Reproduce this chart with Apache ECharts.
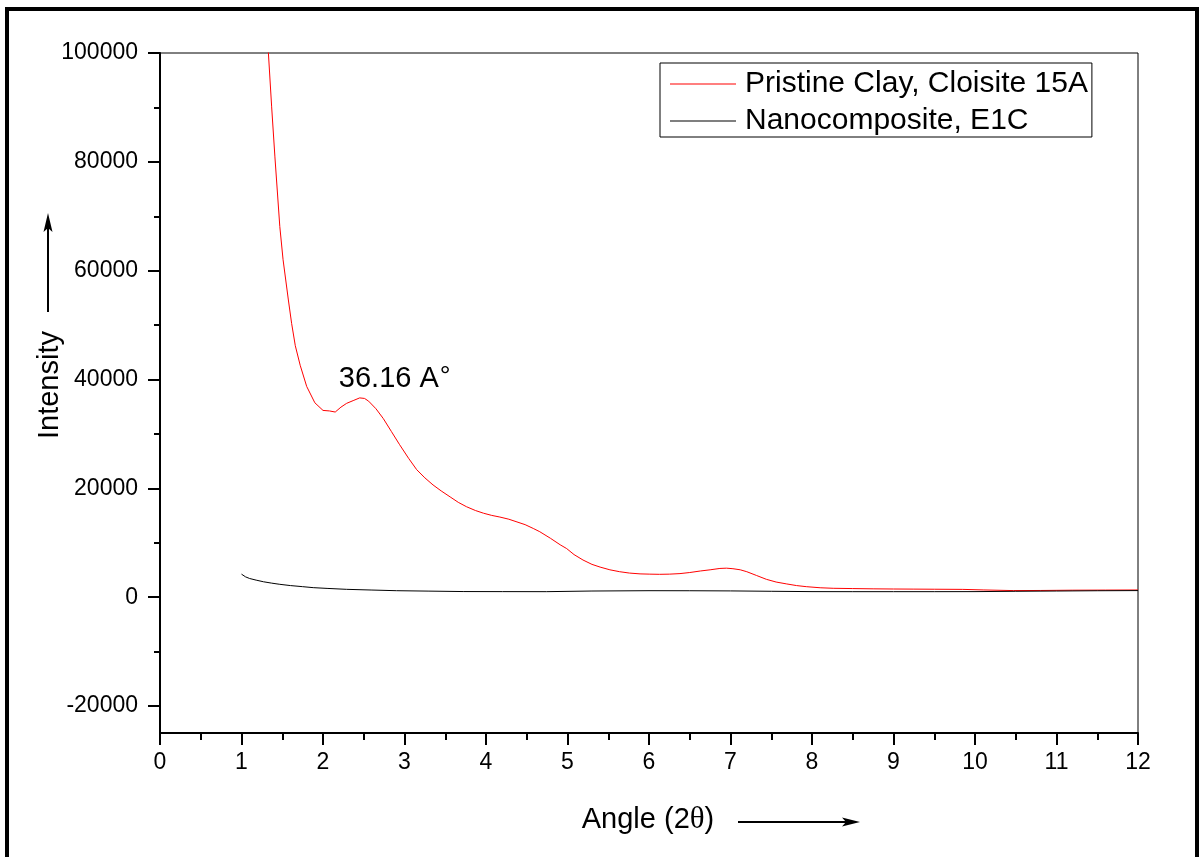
<!DOCTYPE html>
<html>
<head>
<meta charset="utf-8">
<script src="https://cdn.jsdelivr.net/npm/echarts@6/dist/echarts.min.js"></script>
<style>
html,body{margin:0;padding:0;background:#fff;}
#c{width:1204px;height:857px;}
</style>
</head>
<body>
<div id="c"></div>
<script>
// ---- data ----
const seriesNames = ['Pristine Clay, Cloisite 15A', 'Nanocomposite, E1C'];

const clayX = [1.25, 1.33, 1.37, 1.41, 1.47, 1.51, 1.575, 1.615, 1.66, 1.72, 1.80, 1.90, 2.00, 2.08, 2.15, 2.22, 2.29, 2.37, 2.45, 2.51, 2.56, 2.65, 2.74, 2.84, 2.94, 3.05, 3.15, 3.25, 3.35, 3.45, 3.56, 3.66, 3.76, 3.87, 3.97, 4.07, 4.17, 4.28, 4.38, 4.48, 4.58, 4.66, 4.79, 4.91, 4.99, 5.08, 5.19, 5.30, 5.40, 5.52, 5.64, 5.76, 5.89, 6.01, 6.13, 6.25, 6.38, 6.50, 6.63, 6.75, 6.87, 6.95, 7.03, 7.12, 7.20, 7.32, 7.44, 7.56, 7.69, 7.81, 7.93, 8.10, 8.26, 8.50, 8.75, 9.00, 9.25, 9.50, 9.85, 10.10, 10.47, 10.80, 11.20, 11.60, 12.00];
const clayY = [122000, 100000, 90100, 80900, 68100, 62000, 54600, 50300, 46200, 42600, 38700, 35700, 34300, 34200, 34000, 34900, 35600, 36100, 36600, 36500, 36000, 34600, 32800, 30400, 28000, 25500, 23400, 21900, 20600, 19500, 18400, 17400, 16600, 15900, 15400, 15000, 14700, 14300, 13800, 13300, 12600, 12000, 10800, 9600, 8900, 7800, 6800, 6000, 5500, 5000, 4650, 4400, 4250, 4200, 4170, 4200, 4300, 4500, 4780, 5000, 5250, 5300, 5200, 5000, 4650, 3950, 3250, 2750, 2400, 2100, 1900, 1700, 1600, 1550, 1500, 1470, 1450, 1430, 1400, 1300, 1180, 1200, 1250, 1270, 1290];

const nanoX = [1.00, 1.05, 1.10, 1.18, 1.27, 1.37, 1.47, 1.60, 1.75, 1.88, 2.05, 2.29, 2.60, 2.90, 3.30, 3.72, 4.20, 4.74, 5.30, 6.00, 6.50, 7.00, 7.50, 8.00, 8.50, 9.00, 9.50, 10.00, 10.50, 11.00, 11.50, 12.00];
const nanoY = [4200, 3700, 3400, 3100, 2800, 2550, 2330, 2100, 1900, 1720, 1580, 1410, 1280, 1160, 1080, 1000, 990, 980, 1100, 1160, 1150, 1120, 1050, 990, 980, 980, 980, 990, 1050, 1100, 1150, 1180];

const xTicks = {min: 0, max: 12, step: 1};
const yRange = {min: -25000, max: 100000};
const yTicks = {min: -20000, max: 100000, step: 20000};

const peakLabel = {x: 2.88, y: 40000, text: '36.16 A'};

// ---- build ----
const pairs = (xs, ys) => xs.map((x, i) => [x, ys[i]]);
const FONT = 'Liberation Sans, Arial, sans-serif';

const chart = echarts.init(document.getElementById('c'), null, {renderer: 'canvas'});

const option = {
  animation: false,
  backgroundColor: '#fff',
  grid: [
    {left: 160, top: 53, width: 978, height: 680, show: true, borderColor: '#000', borderWidth: 1, backgroundColor: 'transparent'},
    {left: 160, top: 53, width: 978, height: 653}
  ],
  xAxis: [
    {
      gridIndex: 0, type: 'value', min: xTicks.min, max: xTicks.max, interval: xTicks.step,
      axisLine: {show: true, onZero: false, lineStyle: {color: '#000', width: 2}},
      axisTick: {show: true, length: 12, lineStyle: {color: '#000', width: 2}},
      minorTick: {show: true, splitNumber: 2, length: 7, lineStyle: {color: '#000', width: 2}},
      splitLine: {show: false}, minorSplitLine: {show: false},
      axisLabel: {color: '#000', fontSize: 23, fontFamily: FONT, margin: 18, formatter: v => String(v)}
    },
    {gridIndex: 1, type: 'value', min: xTicks.min, max: xTicks.max, show: false}
  ],
  yAxis: [
    {
      gridIndex: 0, type: 'value', min: yRange.min, max: yRange.max,
      axisLine: {show: true, onZero: false, lineStyle: {color: '#000', width: 2}},
      axisTick: {show: false}, axisLabel: {show: false}, splitLine: {show: false}
    },
    {
      gridIndex: 1, type: 'value', min: yTicks.min, max: yTicks.max, interval: yTicks.step,
      axisLine: {show: false, onZero: false},
      axisTick: {show: true, length: 12, lineStyle: {color: '#000', width: 2}},
      minorTick: {show: true, splitNumber: 2, length: 6, lineStyle: {color: '#000', width: 2}},
      splitLine: {show: false}, minorSplitLine: {show: false},
      axisLabel: {color: '#000', fontSize: 23, fontFamily: FONT, margin: 22, formatter: v => String(v)}
    }
  ],
  legend: {
    orient: 'vertical', left: 660, top: 63,
    data: seriesNames,
    icon: 'rect', itemWidth: 66, itemHeight: 1.2, itemGap: 7,
    padding: [6, 4, 1, 10],
    borderColor: '#000', borderWidth: 1, backgroundColor: '#fff',
    textStyle: {color: '#000', fontSize: 30, fontFamily: FONT, padding: [0, 0, 0, 4]}
  },
  series: [
    {
      name: seriesNames[0], type: 'line', xAxisIndex: 0, yAxisIndex: 0,
      data: pairs(clayX, clayY), symbol: 'none', clip: true,
      lineStyle: {color: '#ff0000', width: 1}, itemStyle: {color: '#ff0000'},
      markPoint: {
        symbol: 'circle', symbolSize: 1, itemStyle: {color: 'rgba(0,0,0,0)'},
        label: {
          show: true, position: 'inside', color: '#000', fontSize: 29, fontFamily: FONT,
          formatter: peakLabel.text + '{d|°}',
          rich: {d: {fontSize: 27, fontFamily: FONT, color: '#000', verticalAlign: 'top', padding: [0, 0, 4, 1]}}
        },
        data: [{coord: [peakLabel.x, peakLabel.y]}]
      }
    },
    {
      name: seriesNames[1], type: 'line', xAxisIndex: 0, yAxisIndex: 0,
      data: pairs(nanoX, nanoY), symbol: 'none', clip: true,
      lineStyle: {color: '#000', width: 1}, itemStyle: {color: '#000'}
    }
  ],
  graphic: [
    {type: 'rect', z: 100, shape: {x: 7, y: 9, width: 1190, height: 900}, style: {fill: null, stroke: '#000', lineWidth: 4}},
    {type: 'text', x: 50, y: 385, rotation: Math.PI / 2,
      style: {text: 'Intensity', font: '29px Liberation Sans, Arial, sans-serif', fill: '#000', align: 'center', verticalAlign: 'middle'}},
    {type: 'line', shape: {x1: 48, y1: 312, x2: 48, y2: 226}, style: {stroke: '#000', lineWidth: 2}},
    {type: 'polygon', shape: {points: [[48, 213], [43.5, 232], [48, 228], [52.5, 232]]}, style: {fill: '#000'}},
    {type: 'text', x: 648, y: 820,
      style: {
        text: 'Angle (2{t|θ})', font: '29px Liberation Sans, Arial, sans-serif', fill: '#000', align: 'center', verticalAlign: 'middle',
        rich: {t: {font: '31px Liberation Serif, Times New Roman, serif', fill: '#000'}}
      }},
    {type: 'line', shape: {x1: 738, y1: 822, x2: 848, y2: 822}, style: {stroke: '#000', lineWidth: 2}},
    {type: 'polygon', shape: {points: [[860, 822], [842, 817.5], [846, 822], [842, 826.5]]}, style: {fill: '#000'}}
  ]
};

chart.setOption(option);
</script>
</body>
</html>
